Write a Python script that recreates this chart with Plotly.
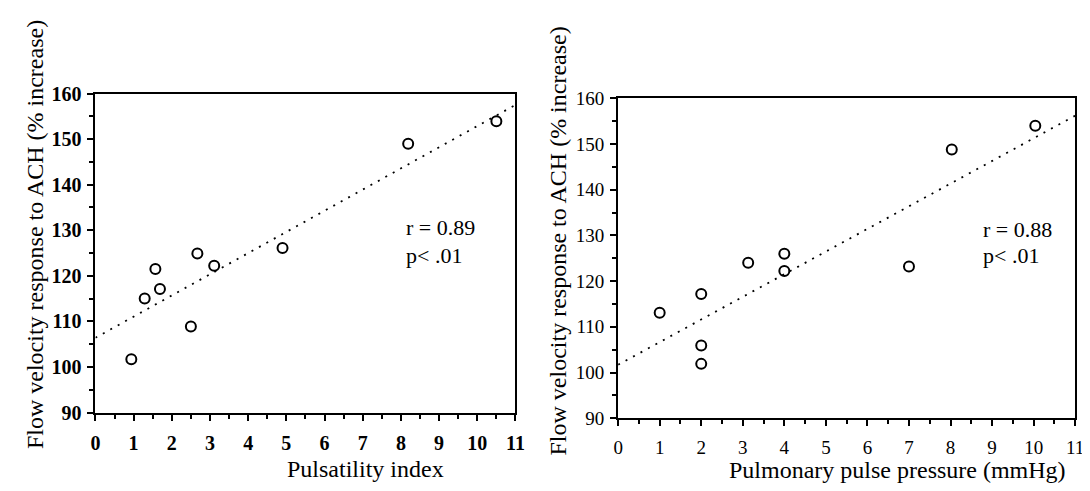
import plotly.graph_objects as go

# ---- data ----
pi_x = [0.94, 1.29, 1.57, 1.69, 2.50, 2.67, 3.11, 4.90, 8.19, 10.50]
pi_y = [101.7, 115.0, 121.5, 117.1, 108.9, 124.9, 122.2, 126.1, 149.0, 153.9]

pp_x = [1, 2, 2, 2, 3.13, 4, 4, 7, 8.03, 10.04]
pp_y = [113.1, 117.2, 105.9, 101.9, 124.0, 126.0, 122.2, 123.2, 148.8, 154.0]

trend_x = [0, 11]
pi_trend_y = [106.4, 157.5]
pp_trend_y = [101.7, 156.2]

x_ticks = list(range(0, 12))
y_ticks = list(range(90, 161, 10))

ytitle = "Flow velocity response to ACH (% increase)"
left_xtitle = "Pulsatility index"
right_xtitle = "Pulmonary pulse pressure (mmHg)"
left_stats = ["r = 0.89", "p< .01"]
right_stats = ["r = 0.88", "p< .01"]

W, H = 1090, 491
FONT = "Liberation Serif"

fig = go.Figure()

dot = "2px,6.5px"
fig.add_trace(go.Scatter(x=trend_x, y=pi_trend_y, mode="lines",
                         line=dict(color="black", width=1.8, dash=dot),
                         xaxis="x", yaxis="y", showlegend=False, hoverinfo="skip"))
fig.add_trace(go.Scatter(x=pi_x, y=pi_y, mode="markers",
                         marker=dict(symbol="circle-open", size=10, color="black",
                                     line=dict(width=2, color="black")),
                         xaxis="x", yaxis="y", showlegend=False))
fig.add_trace(go.Scatter(x=trend_x, y=pp_trend_y, mode="lines",
                         line=dict(color="black", width=1.8, dash=dot),
                         xaxis="x2", yaxis="y2", showlegend=False, hoverinfo="skip"))
fig.add_trace(go.Scatter(x=pp_x, y=pp_y, mode="markers",
                         marker=dict(symbol="circle-open", size=10, color="black",
                                     line=dict(width=2, color="black")),
                         xaxis="x2", yaxis="y2", showlegend=False))


def px_x(p):
    return p / W


def px_y(p):
    return 1 - p / H


def xaxis(dom, anchor, bold, fs):
    return dict(domain=dom, anchor=anchor, range=[0, 11], tickmode="array",
                tickvals=x_ticks, ticktext=[str(v) for v in x_ticks],
                ticks="outside", ticklen=6, tickwidth=2, tickcolor="black",
                minor=dict(dtick=0.5, ticks="outside", ticklen=4, tickwidth=2,
                           tickcolor="black"),
                showline=True, linecolor="black", linewidth=2, mirror=True,
                showgrid=False, zeroline=False, ticklabelstandoff=5,
                tickfont=dict(family=FONT, size=fs, color="black",
                              weight="bold" if bold else "normal"))


def yaxis(dom, anchor, bold, fs):
    return dict(domain=dom, anchor=anchor, range=[90, 160], tickmode="array",
                tickvals=y_ticks, ticktext=[str(v) for v in y_ticks],
                ticks="outside", ticklen=6, tickwidth=2, tickcolor="black",
                minor=dict(dtick=5, ticks="outside", ticklen=4, tickwidth=2,
                           tickcolor="black"),
                showline=True, linecolor="black", linewidth=2, mirror=True,
                showgrid=False, zeroline=False, ticklabelstandoff=2,
                tickfont=dict(family=FONT, size=fs, color="black",
                              weight="bold" if bold else "normal"))


fig.update_layout(
    width=W, height=H,
    margin=dict(l=0, r=0, t=0, b=0),
    paper_bgcolor="white", plot_bgcolor="white",
    xaxis=xaxis([px_x(83.5), px_x(509)], "y", True, 20),
    yaxis=yaxis([px_y(412), px_y(78)], "x", True, 20),
    xaxis2=xaxis([px_x(613), px_x(1076)], "y2", False, 19),
    yaxis2=yaxis([px_y(418), px_y(83)], "x2", False, 19),
)

ann = []
# y titles
ann.append(dict(text=ytitle, x=px_x(22.5), y=px_y(226), xref="paper", yref="paper",
                textangle=-90, showarrow=False, xanchor="center", yanchor="middle",
                font=dict(family=FONT, size=24, color="black")))
ann.append(dict(text=ytitle, x=px_x(552), y=px_y(232), xref="paper", yref="paper",
                textangle=-90, showarrow=False, xanchor="center", yanchor="middle",
                font=dict(family=FONT, size=24, color="black")))
# x titles
ann.append(dict(text=left_xtitle, x=px_x(357), y=px_y(471), xref="paper", yref="paper",
                showarrow=False, xanchor="center", yanchor="middle",
                font=dict(family=FONT, size=24, color="black")))
ann.append(dict(text=right_xtitle, x=px_x(896), y=px_y(472), xref="paper", yref="paper",
                showarrow=False, xanchor="center", yanchor="middle",
                font=dict(family=FONT, size=24, color="black")))
# stats
for txt, yy in zip(left_stats, [130.5, 124.5]):
    ann.append(dict(text=txt, x=8.07, y=yy, xref="x", yref="y", showarrow=False,
                    xanchor="left", yanchor="middle",
                    font=dict(family=FONT, size=22, color="black")))
for txt, yy in zip(right_stats, [131.3, 125.7]):
    ann.append(dict(text=txt, x=8.73, y=yy, xref="x2", yref="y2", showarrow=False,
                    xanchor="left", yanchor="middle",
                    font=dict(family=FONT, size=22, color="black")))
fig.update_layout(annotations=ann)

fig.write_html("out.html")
